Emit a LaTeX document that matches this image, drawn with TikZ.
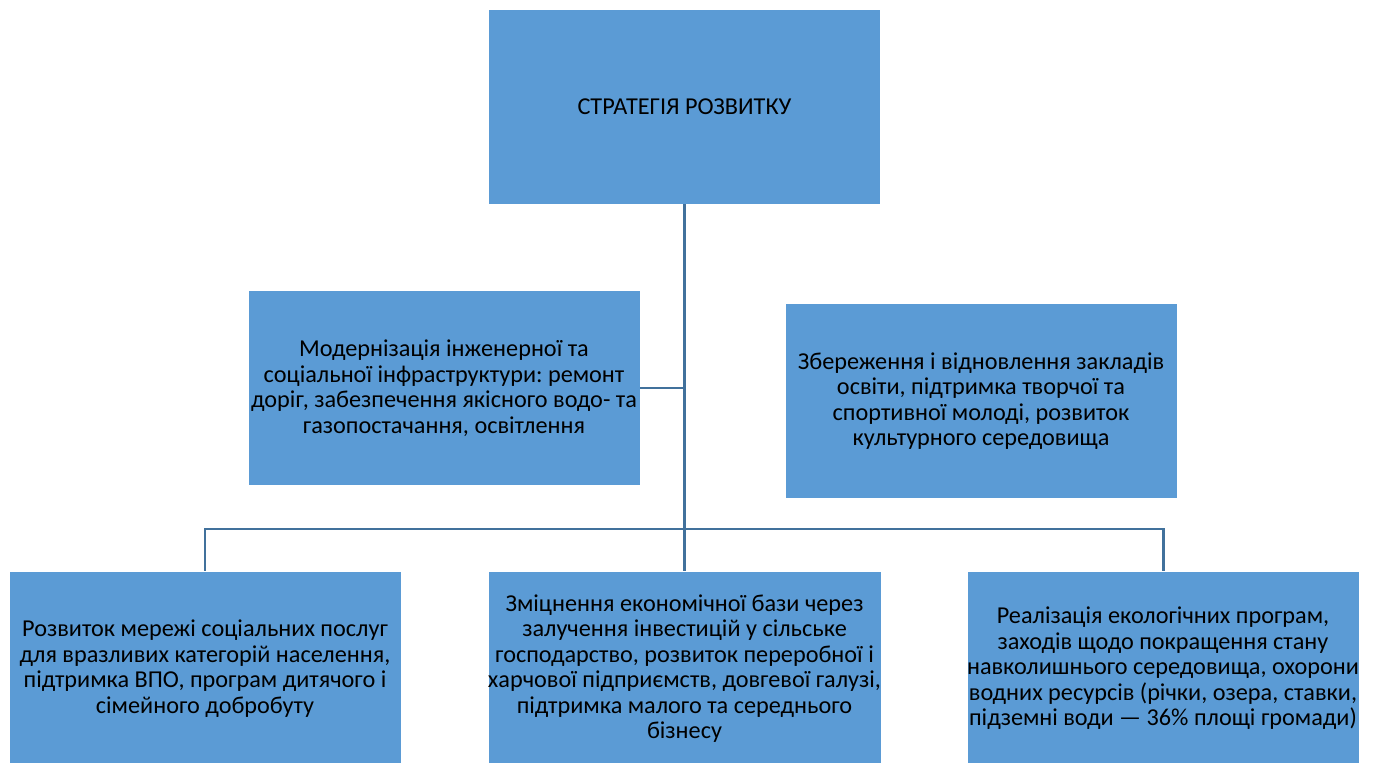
\documentclass[tikz,border=0pt]{standalone}
\usepackage{fontspec}
\setmainfont{Carlito}
\frenchspacing
\usetikzlibrary{positioning}

\definecolor{boxblue}{HTML}{5B9BD5}
\definecolor{linkblue}{HTML}{41719C}

\tikzset{
  goal/.style={fill=boxblue, draw=white, line width=0.4pt,
    minimum width=7.84cm, minimum height=3.9cm, align=center,
    inner sep=0pt, font=\fontsize{13.8}{14.5}\selectfont},
  link/.style={draw=linkblue, line width=1.7pt}
}

\begin{document}
\begin{tikzpicture}[x=0.02cm, y=-0.02cm]
  \useasboundingbox (0,0) rectangle (1375,763);

  % Top level
  \node[goal] (strat) at (684.5,106.5) {СТРАТЕГІЯ РОЗВИТКУ};

  % Middle row
  \node[goal] (infra) at (444,388) {Модернізація інженерної та\\
    соціальної інфраструктури: ремонт\\
    доріг, забезпечення якісного водо- та\\
    газопостачання, освітлення};
  \node[goal] (osvita) at (981,401) {Збереження і відновлення закладів\\
    освіти, підтримка творчої та\\
    спортивної молоді, розвиток\\
    культурного середовища};

  % Bottom row
  \node[goal] (social) at (205,668.5) {Розвиток мережі соціальних послуг\\
    для вразливих категорій населення,\\
    підтримка ВПО, програм дитячого і\\
    сімейного добробуту};
  \node[goal] (econ) at (684.5,668.5) {Зміцнення економічної бази через\\
    залучення інвестицій у сільське\\
    господарство, розвиток переробної і\\
    харчової підприємств, довгевої галузі,\\
    підтримка малого та середнього\\
    бізнесу};
  \node[goal] (eco) at (1163,668.5) {Реалізація екологічних програм,\\
    заходів щодо покращення стану\\
    навколишнього середовища, охорони\\
    водних ресурсів (річки, озера, ставки,\\
    підземні води — 36\% площі громади)};

  % Connectors
  \coordinate (bar) at (684.5,529);
  \draw[link] (strat.south) -- (econ.north);
  \draw[link] (infra.east) -- (infra.east -| strat.south);
  \draw[link] (social.north) |- (bar) -| (eco.north);

\end{tikzpicture}
\end{document}
